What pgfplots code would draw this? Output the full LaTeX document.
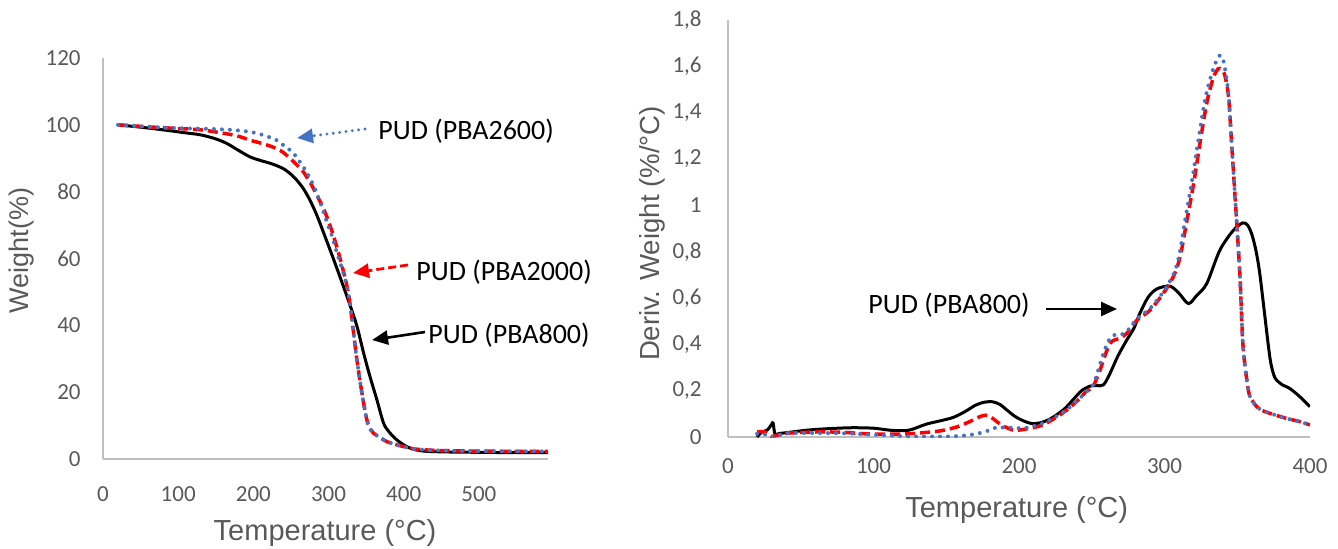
\documentclass[border=0pt]{standalone}
\usepackage{fontspec}
\setmainfont{Carlito}
\newfontfamily\arialf{Liberation Sans}
\usepackage{pgfplots}
\pgfplotsset{compat=1.18}
\usetikzlibrary{arrows.meta}

\definecolor{tickgray}{RGB}{89,89,89}
\definecolor{axisgray}{RGB}{191,191,191}
\definecolor{pbablue}{RGB}{68,114,196}
\definecolor{pbared}{RGB}{255,0,0}

\tikzset{titlefont/.style={font=\arialf\fontsize{14.5}{16}\selectfont, color=tickgray}}

\pgfplotsset{
  xlsx/.style={
    scale only axis,
    axis lines=left,
    axis line style={-, draw=axisgray, line width=0.9pt},
    major tick length=0pt,
    tick label style={font=\fontsize{11.5}{13}\selectfont, color=tickgray},
    /pgf/number format/assume math mode=true,
    yticklabel style={anchor=east, inner sep=0pt},
    xticklabel style={anchor=north, inner sep=0pt},
    clip=true,
  },
  s800/.style={black, line width=1.5pt, smooth},
  s2000/.style={pbared, line width=1.75pt, smooth, dash pattern=on 5pt off 2.5pt},
  s2600/.style={pbablue, line width=2pt, smooth, line cap=round, dash pattern=on 0pt off 4pt},
}

\begin{document}
\begin{tikzpicture}[x=0.5pt,y=0.5pt]
\useasboundingbox (0,0) rectangle (1338,548);

% ---- TGA ----
\begin{axis}[xlsx,
  at={(51.5pt,44.5pt)}, anchor=south west,
  width=222.5pt, height=200.5pt,
  xmin=0, xmax=592, ymin=0, ymax=120,
  xtick={0,100,...,500}, ytick={0,20,...,120},
  xticklabel style={yshift=-13.5pt},
  yticklabel style={xshift=-11pt},
  xlabel={Temperature (°C)},
  ylabel={Weight(\%)},
  every axis x label/.style={titlefont, at={(axis description cs:0.499,-0.1845)}, anchor=center},
  every axis y label/.style={titlefont, font=\arialf\fontsize{13.5}{15}\selectfont, at={(axis description cs:-0.184,0.52)}, anchor=center, rotate=90},
]
\addplot[s800] coordinates {
(20,100) (50,99.3) (80,98.5) (110,97.6) (130,97) (150,95.8) (165,94.4)
(180,92.4) (195.7,90.4) (210,89.3) (225,88.3) (239.8,86.9) (250,85.2)
(258,83.4) (266.6,80.9) (275,77.6) (284.6,72.9) (295,66.8) (306.7,59.8)
(318,52.8) (329,45.8) (338,39.6) (346.6,31.8) (355,24.8) (364.4,17.7)
(373.3,10.7) (381,8) (391,5.7) (404,3.7) (415,2.8) (430,2.3) (460,2.1)
(500,2.0) (550,1.9) (592,1.9)
};
\addplot[s2000] coordinates {
(20,100) (60,99.4) (100,98.9) (130,98.5) (160,97.5) (180,96.6) (195.7,95.4)
(215,94.2) (231,92.9) (240,91.7) (249,89.9) (258,88) (266.6,85.9)
(276,82.6) (284.6,78.9) (294,74.6) (302,69.9) (309,65) (315.6,59.8)
(320,56) (324.5,51.8) (329,45.8) (333.3,37.8) (337.7,29.8) (344.4,19.8)
(351,11.7) (356,8.8) (360,7.7) (370,6.2) (377.7,5.2) (390,4.3) (400,3.7)
(415,3) (440,2.6) (480,2.4) (540,2.3) (592,2.3)
};
\addplot[s2600] coordinates {
(20,100) (60,99.4) (100,99) (140,98.8) (170,98.5) (195.7,97.9) (215,96.8)
(231,95.4) (240,93.9) (249,92.4) (256,90.8) (262,88.9) (271,85.8)
(280,81.9) (289,76.8) (297.9,70.9) (305,66.5) (311,61.9) (318,57)
(324.5,51.8) (329,45.8) (333.3,37.8) (337.7,29.8) (344.4,19.8)
(351,11.7) (356,8.8) (360,7.7) (370,6.2) (377.7,5.2) (390,4.3) (400,3.7)
(415,3) (440,2.6) (480,2.4) (540,2.3) (592,2.3)
};
\end{axis}

% ---- DTG ----
\begin{axis}[xlsx,
  at={(364pt,55.5pt)}, anchor=south west,
  width=291pt, height=208.5pt,
  xmin=0, xmax=400, ymin=0, ymax=1.8,
  xtick={0,100,...,400}, ytick={0,0.2,...,1.8},
  yticklabel={\pgfmathprintnumber[use comma, fixed, precision=1]{\tick}},
  xticklabel style={yshift=-10.5pt},
  yticklabel style={xshift=-13pt},
  xlabel={Temperature (°C)},
  ylabel={Deriv. Weight (\%/°C)},
  every axis x label/.style={titlefont, at={(axis description cs:0.496,-0.175)}, anchor=center},
  every axis y label/.style={titlefont, font=\arialf\fontsize{13.8}{15}\selectfont, at={(axis description cs:-0.1306,0.488)}, anchor=center, rotate=90},
]
\addplot[s800] coordinates {
(20,0) (23,0.02) (27,0.03) (30,0.055) (31,0.06) (32.3,0.012) (35,0.015)
(42,0.02) (55,0.03) (69,0.036) (85,0.04) (100,0.038) (112,0.029)
(124,0.029) (136,0.055) (146,0.07) (155,0.085) (163,0.11) (170,0.137)
(176,0.15) (182,0.152) (187,0.14) (191,0.12) (197,0.09) (203,0.07)
(209,0.058) (215,0.062) (222,0.08) (231,0.12) (237,0.16) (243,0.2)
(249,0.22) (253,0.222) (258,0.225) (262.5,0.274) (268,0.35) (274,0.418)
(279,0.47) (283,0.533) (288.9,0.605) (295,0.64) (303.8,0.651) (310,0.62)
(316.4,0.576) (322,0.61) (329,0.662) (338,0.806) (347.3,0.892)
(353.7,0.924) (357,0.915) (360,0.875) (363,0.8) (365.6,0.7) (369,0.52)
(372.5,0.34) (375,0.27) (377,0.246) (381,0.225) (386,0.21) (393,0.174)
(400,0.131)
};
\addplot[s2000] coordinates {
(20,0.022) (25,0.022) (29.6,0.002) (35,0.01) (42,0.017) (63,0.022)
(80,0.02) (94,0.014) (110,0.012) (124,0.014) (140,0.022) (148,0.029)
(158,0.045) (167,0.069) (172,0.085) (177,0.094) (181,0.085) (185,0.065)
(190,0.045) (197,0.029) (206,0.036) (215.5,0.05) (223,0.075) (231,0.108)
(239,0.15) (246,0.195) (251,0.22) (255.7,0.289) (259,0.35) (262.5,0.404)
(266,0.42) (269,0.425) (274,0.447) (281,0.504) (290,0.547) (299,0.619)
(306,0.691) (310.7,0.777) (315,0.921) (320,1.093) (324.4,1.27) (329,1.44)
(333.5,1.55) (337,1.59) (339.3,1.585) (341.5,1.56) (344,1.47) (346,1.28)
(348.5,1.036) (350,0.892) (352,0.677) (354,0.39) (357.6,0.203) (360,0.16)
(363.4,0.131) (367,0.115) (372.5,0.102) (384,0.08) (392,0.068) (400,0.052)
};
\addplot[s2600] coordinates {
(20,0.014) (25,0.012) (30,0) (35,0.008) (42,0.017) (63,0.017) (80,0.016)
(94,0.012) (110,0.007) (124,0.003) (140,0.002) (155,0.003) (165,0.008)
(173,0.017) (180,0.03) (185,0.043) (190,0.04) (194,0.04) (200,0.038)
(206,0.04) (215.5,0.058) (223,0.08) (231,0.11) (239,0.15) (246,0.195)
(251,0.225) (255,0.3) (258.5,0.37) (262,0.42) (265,0.44) (269,0.44)
(274,0.455) (281,0.51) (290,0.555) (299,0.625) (306,0.7) (310,0.78)
(314,0.93) (319,1.11) (323.5,1.29) (328,1.46) (333,1.58) (337,1.64)
(339,1.645) (341,1.61) (344,1.48) (346,1.28) (348.5,1.036) (350,0.892)
(352,0.677) (354,0.39) (357.6,0.203) (360,0.16) (363.4,0.131) (367,0.115)
(372.5,0.102) (384,0.08) (392,0.068) (400,0.052)
};
\end{axis}

% ---- annotations ----
\begin{scope}[font=\fontsize{14}{16}\selectfont]
\node[anchor=west, inner sep=0pt] at (378,417) {PUD (PBA2600)};
\draw[pbablue, line width=1.6pt, line cap=round, dash pattern=on 0pt off 3.2pt,
  -{Triangle[length=8pt,width=7pt]}] (365,419) -- (297,410);
\node[anchor=west, inner sep=0pt] at (416,276) {PUD (PBA2000)};
\draw[pbared, line width=1.4pt, dash pattern=on 4pt off 2pt,
  -{Triangle[length=8pt,width=7pt]}] (408,283) -- (353,275);
\node[anchor=west, inner sep=0pt] at (428,213) {PUD (PBA800)};
\draw[black, line width=1.3pt, -{Triangle[length=8pt,width=7pt]}] (425,216) -- (372,208);
\node[anchor=west, inner sep=0pt] at (868,243) {PUD (PBA800)};
\draw[black, line width=1.3pt, -{Triangle[length=8pt,width=7pt]}] (1046,239) -- (1117,239);
\end{scope}
\end{tikzpicture}
\end{document}
